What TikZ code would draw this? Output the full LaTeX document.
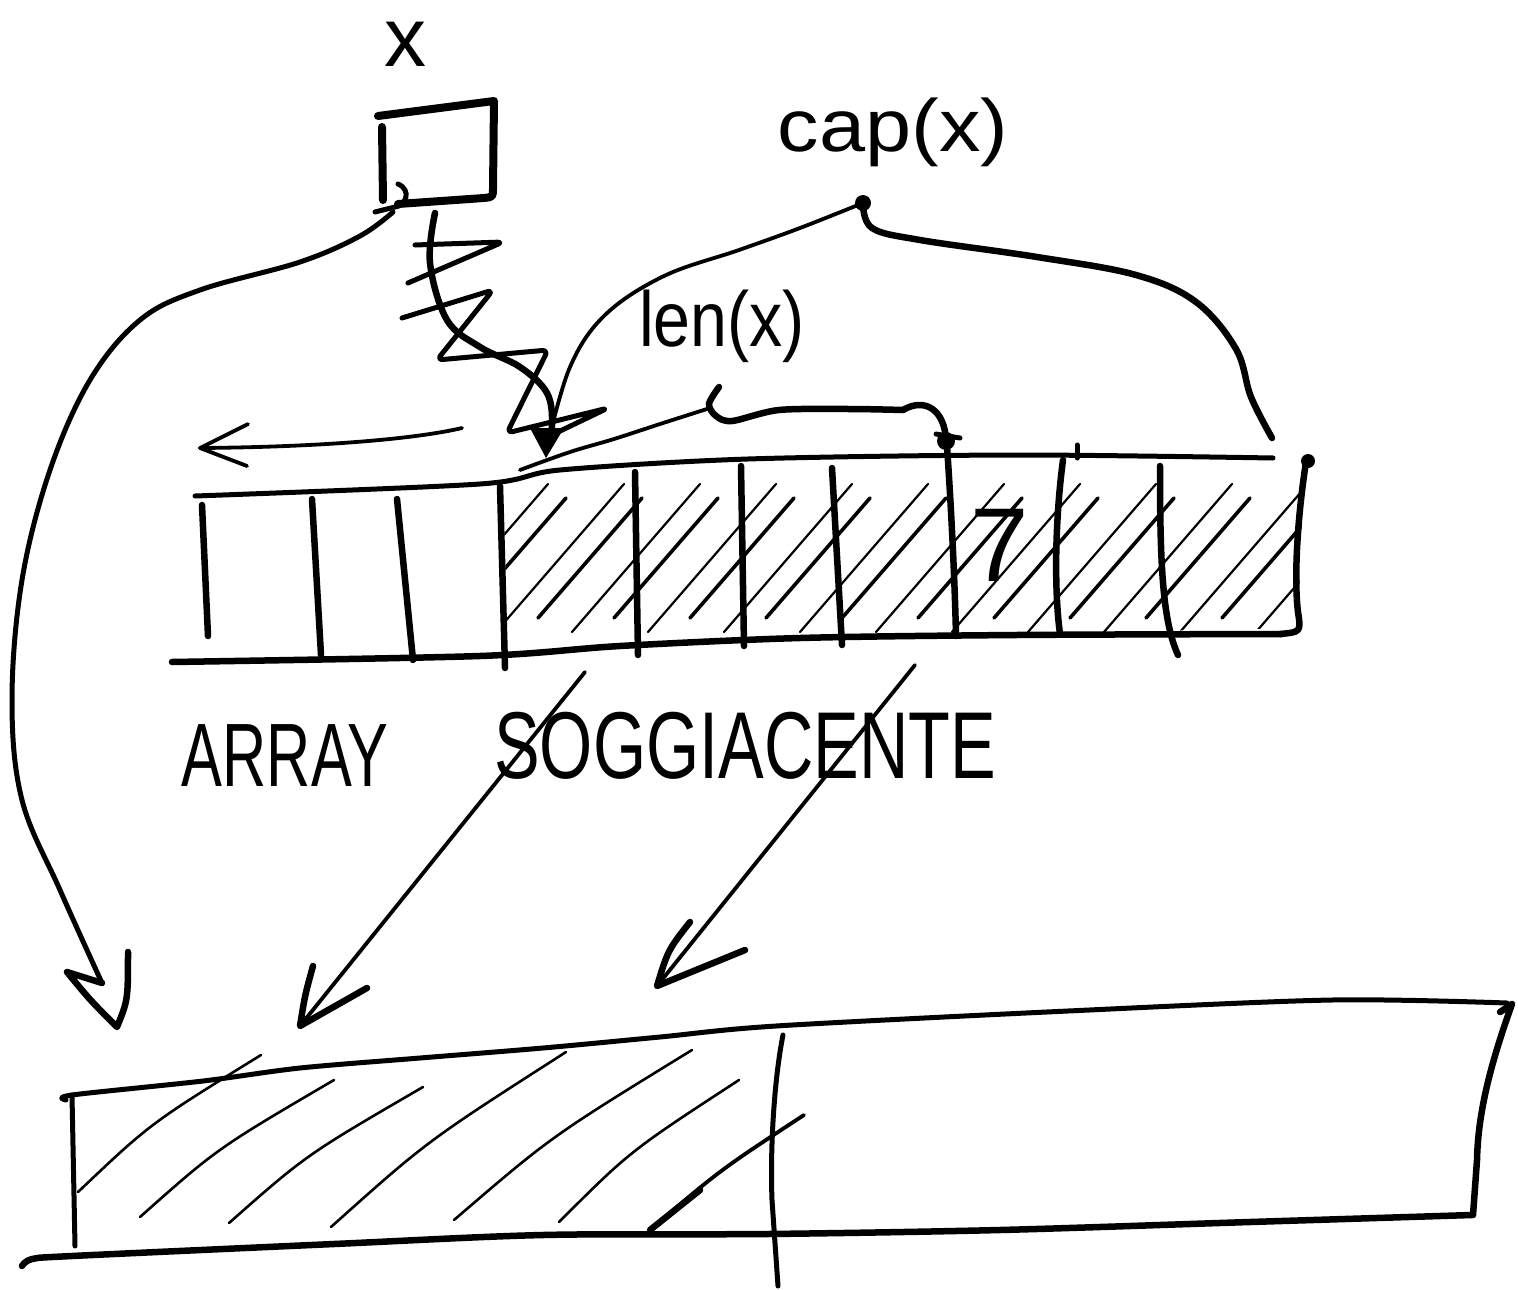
\documentclass[tikz,border=0pt]{standalone}
\usepackage{fontspec}
\setmainfont{Liberation Sans}
\begin{document}
\begin{tikzpicture}[x=1pt,y=-1pt,
  boxline/.style={line width=8pt,line cap=round,line join=round},
  hand/.style={line width=6.5pt,line cap=round,line join=round},
  mid/.style={line width=5pt,line cap=round,line join=round},
  fine/.style={line width=3.8pt,line cap=round,line join=round},
  hatch/.style={line width=2.2pt,line cap=round},
  hatchb/.style={line width=3.6pt,line cap=round},
  lbl/.style={inner sep=0pt}]
\useasboundingbox[fill=white] (0,0) rectangle (1518,1290);

% ---- labels ----
\node[lbl] (xlabel) at (405,44) {\fontsize{84}{84}\selectfont x};
\node[lbl] (caplabel) at (893,132) {\scalebox{1.12}[1]{\fontsize{74}{74}\selectfont cap(x)}};
\node[lbl] (lenlabel) at (722,326) {\scalebox{0.85}[1]{\fontsize{78}{78}\selectfont len(x)}};
\node[lbl] (arraylabel) at (285,756) {\scalebox{0.68}[1]{\fontsize{90}{90}\selectfont ARRAY}};
\node[lbl] (soglabel) at (745,746) {\scalebox{0.72}[1]{\fontsize{95}{95}\selectfont SOGGIACENTE}};
\node[lbl] (seven) at (1000,545) {\fontsize{105}{105}\selectfont 7};

% ---- small box x ----
\draw[boxline] (378,116) -- (494,101) -- (493,188) .. controls (493,197) .. (484,198) -- (398,204);
\draw[boxline] (382,127) -- (383,200);
\draw[mid] (398,184) .. controls (412,190) and (406,206) .. (395,207) -- (375,212);
\coordinate (boxBL) at (393,212);
\coordinate (boxB) at (435,213);

% ---- curve from box to bottom-left ----
\coordinate (leftTip) at (117,1027);
\draw[mid] plot[smooth,tension=0.6] coordinates {(boxBL) (360,236) (300,262) (200,290) (140,320) (90,380) (50,470) (22,580) (12,700) (22,800) (60,890) (102,983)};
\draw[hand] (102,983) -- (67,972) .. controls (90,1000) .. (leftTip) .. controls (128,1000) .. (128,952);

% ---- scribbled arrow from box to array ----
\coordinate (scrTip) at (546,458);
\draw[hand] plot[smooth,tension=0.6] coordinates {(boxB) (430,263) (447,320) (480,347) (520,367) (547,393) (552,425) (546,448)};
\draw[mid,rounded corners=6pt] (415,245) -- (503,242) -- (408,283);
\draw[mid,rounded corners=6pt] (402,318) -- (493,290) -- (437,360) -- (548,350) -- (507,433) -- (608,408) -- (558,432);
\fill (530,428) -- (564,428) -- (scrTip) -- cycle;

% ---- cap(x) brace ----
\coordinate (capdot) at (863,203);
\fill (capdot) circle (8);
\draw[hand] plot[smooth,tension=0.6] coordinates {(capdot) (872,228) (920,240) (1037,257) (1136,275) (1196,302) (1236,349) (1251,397) (1272,438)};
\draw[fine] plot[smooth,tension=0.6] coordinates {(capdot) (800,228) (739,250) (664,276) (605,315) (570,367) (547,447)};

% ---- len(x) brace ----
\coordinate (lentop) at (719,387);
\coordinate (lenend) at (946,441);
\draw[hand] plot[smooth,tension=0.5] coordinates {(lentop) (709,404) (716,416) (732,421) (779,410) (850,409) (903,410)};
\draw[hand] (903,410) .. controls (925,397) and (945,410) .. (lenend);
\fill (lenend) circle (9);
\draw[mid] (936,434) -- (960,438);
\draw[fine] plot[smooth,tension=0.6] coordinates {(707,409) (660,424) (614,439) (570,452) (520,470)};

% ---- left arrow above array ----
\coordinate (laS) at (462,428);
\coordinate (laT) at (200,448);
\draw[fine] (laS) .. controls (420,438) and (330,447) .. (laT);
\draw[fine] (248,424) -- (laT) -- (247,466);

% ---- upper array ----
\begin{scope}
\clip (503,484) -- (560,470) -- (748,460) -- (1016,457) -- (1304,461) -- (1298,628) -- (1016,634) -- (800,637) -- (640,645) -- (508,655) -- cycle;
\foreach \x [count=\i] in {420,458,...,1330} {
  \ifodd\i \draw[hatch] (\x,632) -- ++(128,-148);
  \else \draw[hatchb] (\x+4,618) -- ++(104,-120); \fi }
\end{scope}
\draw[mid] plot[smooth,tension=0.5] coordinates {(195,496) (480,484) (560,470) (748,459) (1016,455) (1273,458)};
\fill (1308,461) circle (7);
\draw[hand] (1306,462) .. controls (1297,520) and (1294,580) .. (1298,612) .. controls (1301,632) .. (1280,634);
\draw[hand] plot[smooth,tension=0.5] coordinates {(172,662) (480,656) (620,646) (800,638) (1016,635) (1282,634)};
\draw[hand] (202,505) -- (208,636);
\draw[hand] (312,499) -- (321,655);
\draw[hand] (397,499) -- (413,660);
\draw[hand] (500,486) -- (505,668);
\draw[hand] (635,472) -- (638,655);
\draw[hand] (741,466) -- (744,646);
\draw[hand] (832,468) -- (842,645);
\draw[hand] (947,446) .. controls (952,520) and (955,590) .. (956,636);
\draw[hand] (1063,460) .. controls (1055,520) and (1054,590) .. (1060,634);
\draw[hand] (1160,466) .. controls (1160,560) and (1162,620) .. (1178,655);
\draw[mid] (1077,445) -- (1077,458);

% ---- arrows down to new array ----
\coordinate (d1S) at (585,672);
\coordinate (d1T) at (300,1026);
\draw[fine] (d1S) -- (d1T);
\draw[hand] (313,966) .. controls (305,995) .. (d1T) -- (367,988);
\coordinate (d2S) at (915,665);
\coordinate (d2T) at (657,986);
\draw[fine] (d2S) -- (d2T);
\draw[hand] (690,922) .. controls (668,950) .. (d2T) -- (745,950);

% ---- lower array ----
\foreach \a/\b/\c/\d in {78/1192/261/1055, 140/1217/334/1080, 229/1223/423/1087, 331/1227/566/1052, 454/1220/692/1050, 559/1222/739/1080}
  \draw[line width=2.6pt,line cap=round] (\a,\b) .. controls ({0.55*\a+0.45*\c-10},{0.55*\b+0.45*\d-7}) .. (\c,\d);
\draw[hand] (650,1230) -- (700,1190);
\draw[fine] (650,1230) .. controls (720,1170) .. (804,1115);
\draw[mid] plot[smooth,tension=0.5] coordinates {(66,1100) (72,1095) (203,1081) (300,1068) (420,1058) (543,1048) (660,1037) (776,1026) (1068,1011) (1332,1000) (1507,1003)};
\draw[mid] (72,1095) -- (75,1246);
\draw[hand] plot[smooth,tension=0.5] coordinates {(22,1266) (32,1259) (72,1256) (334,1244) (543,1235) (768,1234) (1000,1230) (1250,1222) (1472,1215)};
\draw[hand] (1500,1012) -- (1512,1004) .. controls (1492,1060) and (1478,1110) .. (1477,1160) -- (1473,1215);
\draw[mid] (783,1035) .. controls (774,1080) and (770,1150) .. (772,1200) -- (778,1286);
\end{tikzpicture}
\end{document}
